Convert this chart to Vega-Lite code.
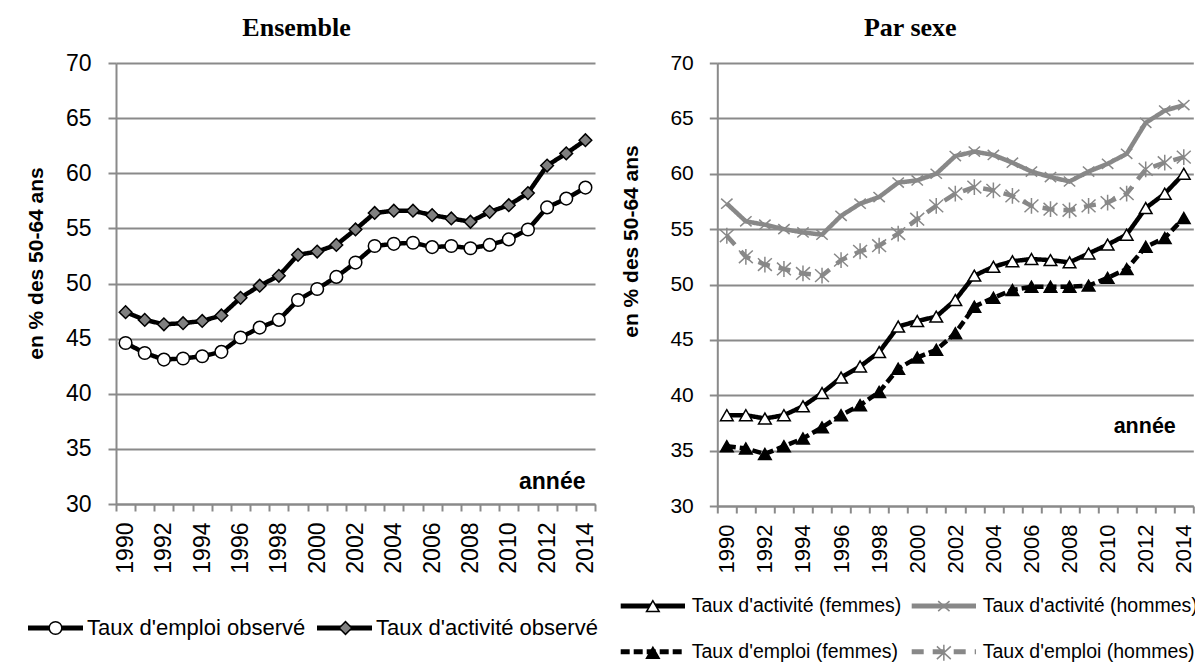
{
  "$schema": "https://vega.github.io/schema/vega-lite/v6.json",
  "background": "white",
  "padding": {"left": 17, "top": 15, "right": 0, "bottom": 0},
  "bounds": "flush",
  "spacing": 122.3,
  "resolve": {
    "scale": {"color": "independent", "strokeDash": "independent", "shape": "independent", "fill": "independent", "stroke": "independent", "x": "independent", "y": "independent"},
    "legend": {"color": "independent", "strokeDash": "independent", "shape": "independent", "fill": "independent", "stroke": "independent"}
  },
  "config": {
    "view": {"stroke": null},
    "axis": {"gridColor": "#8a8a8a", "gridWidth": 2, "domainColor": "#8a8a8a", "domainWidth": 2, "tickColor": "#8a8a8a", "tickWidth": 2, "labelColor": "black", "labelFont": "Liberation Sans", "titleFont": "Liberation Sans", "titleColor": "black"},
    "title": {"font": "Liberation Serif", "fontWeight": "bold", "fontSize": 26, "color": "black"},
    "legend": {"labelFont": "Liberation Sans", "labelColor": "black", "labelLimit": 500, "padding": 0}
  },
  "datasets": {
    "ens": [
      {"annee": 1990, "serie": "Taux d'emploi observé", "valeur": 44.6},
      {"annee": 1991, "serie": "Taux d'emploi observé", "valeur": 43.7},
      {"annee": 1992, "serie": "Taux d'emploi observé", "valeur": 43.1},
      {"annee": 1993, "serie": "Taux d'emploi observé", "valeur": 43.2},
      {"annee": 1994, "serie": "Taux d'emploi observé", "valeur": 43.4},
      {"annee": 1995, "serie": "Taux d'emploi observé", "valeur": 43.8},
      {"annee": 1996, "serie": "Taux d'emploi observé", "valeur": 45.1},
      {"annee": 1997, "serie": "Taux d'emploi observé", "valeur": 46.0},
      {"annee": 1998, "serie": "Taux d'emploi observé", "valeur": 46.7},
      {"annee": 1999, "serie": "Taux d'emploi observé", "valeur": 48.5},
      {"annee": 2000, "serie": "Taux d'emploi observé", "valeur": 49.5},
      {"annee": 2001, "serie": "Taux d'emploi observé", "valeur": 50.6},
      {"annee": 2002, "serie": "Taux d'emploi observé", "valeur": 51.9},
      {"annee": 2003, "serie": "Taux d'emploi observé", "valeur": 53.4},
      {"annee": 2004, "serie": "Taux d'emploi observé", "valeur": 53.6},
      {"annee": 2005, "serie": "Taux d'emploi observé", "valeur": 53.7},
      {"annee": 2006, "serie": "Taux d'emploi observé", "valeur": 53.3},
      {"annee": 2007, "serie": "Taux d'emploi observé", "valeur": 53.4},
      {"annee": 2008, "serie": "Taux d'emploi observé", "valeur": 53.2},
      {"annee": 2009, "serie": "Taux d'emploi observé", "valeur": 53.5},
      {"annee": 2010, "serie": "Taux d'emploi observé", "valeur": 54.0},
      {"annee": 2011, "serie": "Taux d'emploi observé", "valeur": 54.9},
      {"annee": 2012, "serie": "Taux d'emploi observé", "valeur": 56.9},
      {"annee": 2013, "serie": "Taux d'emploi observé", "valeur": 57.7},
      {"annee": 2014, "serie": "Taux d'emploi observé", "valeur": 58.7},
      {"annee": 1990, "serie": "Taux d'activité observé", "valeur": 47.4},
      {"annee": 1991, "serie": "Taux d'activité observé", "valeur": 46.7},
      {"annee": 1992, "serie": "Taux d'activité observé", "valeur": 46.3},
      {"annee": 1993, "serie": "Taux d'activité observé", "valeur": 46.4},
      {"annee": 1994, "serie": "Taux d'activité observé", "valeur": 46.6},
      {"annee": 1995, "serie": "Taux d'activité observé", "valeur": 47.1},
      {"annee": 1996, "serie": "Taux d'activité observé", "valeur": 48.7},
      {"annee": 1997, "serie": "Taux d'activité observé", "valeur": 49.8},
      {"annee": 1998, "serie": "Taux d'activité observé", "valeur": 50.7},
      {"annee": 1999, "serie": "Taux d'activité observé", "valeur": 52.6},
      {"annee": 2000, "serie": "Taux d'activité observé", "valeur": 52.9},
      {"annee": 2001, "serie": "Taux d'activité observé", "valeur": 53.5},
      {"annee": 2002, "serie": "Taux d'activité observé", "valeur": 54.9},
      {"annee": 2003, "serie": "Taux d'activité observé", "valeur": 56.4},
      {"annee": 2004, "serie": "Taux d'activité observé", "valeur": 56.6},
      {"annee": 2005, "serie": "Taux d'activité observé", "valeur": 56.6},
      {"annee": 2006, "serie": "Taux d'activité observé", "valeur": 56.2},
      {"annee": 2007, "serie": "Taux d'activité observé", "valeur": 55.9},
      {"annee": 2008, "serie": "Taux d'activité observé", "valeur": 55.6},
      {"annee": 2009, "serie": "Taux d'activité observé", "valeur": 56.5},
      {"annee": 2010, "serie": "Taux d'activité observé", "valeur": 57.1},
      {"annee": 2011, "serie": "Taux d'activité observé", "valeur": 58.2},
      {"annee": 2012, "serie": "Taux d'activité observé", "valeur": 60.7},
      {"annee": 2013, "serie": "Taux d'activité observé", "valeur": 61.8},
      {"annee": 2014, "serie": "Taux d'activité observé", "valeur": 63.0}
    ],
    "sexe": [
      {"annee": 1990, "serie": "Taux d'activité (femmes)", "valeur": 38.2},
      {"annee": 1991, "serie": "Taux d'activité (femmes)", "valeur": 38.2},
      {"annee": 1992, "serie": "Taux d'activité (femmes)", "valeur": 37.9},
      {"annee": 1993, "serie": "Taux d'activité (femmes)", "valeur": 38.2},
      {"annee": 1994, "serie": "Taux d'activité (femmes)", "valeur": 39.0},
      {"annee": 1995, "serie": "Taux d'activité (femmes)", "valeur": 40.2},
      {"annee": 1996, "serie": "Taux d'activité (femmes)", "valeur": 41.6},
      {"annee": 1997, "serie": "Taux d'activité (femmes)", "valeur": 42.6},
      {"annee": 1998, "serie": "Taux d'activité (femmes)", "valeur": 43.9},
      {"annee": 1999, "serie": "Taux d'activité (femmes)", "valeur": 46.2},
      {"annee": 2000, "serie": "Taux d'activité (femmes)", "valeur": 46.7},
      {"annee": 2001, "serie": "Taux d'activité (femmes)", "valeur": 47.1},
      {"annee": 2002, "serie": "Taux d'activité (femmes)", "valeur": 48.6},
      {"annee": 2003, "serie": "Taux d'activité (femmes)", "valeur": 50.8},
      {"annee": 2004, "serie": "Taux d'activité (femmes)", "valeur": 51.6},
      {"annee": 2005, "serie": "Taux d'activité (femmes)", "valeur": 52.1},
      {"annee": 2006, "serie": "Taux d'activité (femmes)", "valeur": 52.3},
      {"annee": 2007, "serie": "Taux d'activité (femmes)", "valeur": 52.2},
      {"annee": 2008, "serie": "Taux d'activité (femmes)", "valeur": 52.0},
      {"annee": 2009, "serie": "Taux d'activité (femmes)", "valeur": 52.8},
      {"annee": 2010, "serie": "Taux d'activité (femmes)", "valeur": 53.6},
      {"annee": 2011, "serie": "Taux d'activité (femmes)", "valeur": 54.5},
      {"annee": 2012, "serie": "Taux d'activité (femmes)", "valeur": 56.9},
      {"annee": 2013, "serie": "Taux d'activité (femmes)", "valeur": 58.2},
      {"annee": 2014, "serie": "Taux d'activité (femmes)", "valeur": 60.0},
      {"annee": 1990, "serie": "Taux d'activité (hommes)", "valeur": 57.3},
      {"annee": 1991, "serie": "Taux d'activité (hommes)", "valeur": 55.7},
      {"annee": 1992, "serie": "Taux d'activité (hommes)", "valeur": 55.4},
      {"annee": 1993, "serie": "Taux d'activité (hommes)", "valeur": 55.0},
      {"annee": 1994, "serie": "Taux d'activité (hommes)", "valeur": 54.7},
      {"annee": 1995, "serie": "Taux d'activité (hommes)", "valeur": 54.5},
      {"annee": 1996, "serie": "Taux d'activité (hommes)", "valeur": 56.2},
      {"annee": 1997, "serie": "Taux d'activité (hommes)", "valeur": 57.3},
      {"annee": 1998, "serie": "Taux d'activité (hommes)", "valeur": 57.9},
      {"annee": 1999, "serie": "Taux d'activité (hommes)", "valeur": 59.2},
      {"annee": 2000, "serie": "Taux d'activité (hommes)", "valeur": 59.4},
      {"annee": 2001, "serie": "Taux d'activité (hommes)", "valeur": 60.0},
      {"annee": 2002, "serie": "Taux d'activité (hommes)", "valeur": 61.6},
      {"annee": 2003, "serie": "Taux d'activité (hommes)", "valeur": 62.0},
      {"annee": 2004, "serie": "Taux d'activité (hommes)", "valeur": 61.7},
      {"annee": 2005, "serie": "Taux d'activité (hommes)", "valeur": 61.0},
      {"annee": 2006, "serie": "Taux d'activité (hommes)", "valeur": 60.2},
      {"annee": 2007, "serie": "Taux d'activité (hommes)", "valeur": 59.7},
      {"annee": 2008, "serie": "Taux d'activité (hommes)", "valeur": 59.3},
      {"annee": 2009, "serie": "Taux d'activité (hommes)", "valeur": 60.2},
      {"annee": 2010, "serie": "Taux d'activité (hommes)", "valeur": 60.9},
      {"annee": 2011, "serie": "Taux d'activité (hommes)", "valeur": 61.8},
      {"annee": 2012, "serie": "Taux d'activité (hommes)", "valeur": 64.6},
      {"annee": 2013, "serie": "Taux d'activité (hommes)", "valeur": 65.7},
      {"annee": 2014, "serie": "Taux d'activité (hommes)", "valeur": 66.2},
      {"annee": 1990, "serie": "Taux d'emploi (femmes)", "valeur": 35.4},
      {"annee": 1991, "serie": "Taux d'emploi (femmes)", "valeur": 35.2},
      {"annee": 1992, "serie": "Taux d'emploi (femmes)", "valeur": 34.7},
      {"annee": 1993, "serie": "Taux d'emploi (femmes)", "valeur": 35.4},
      {"annee": 1994, "serie": "Taux d'emploi (femmes)", "valeur": 36.1},
      {"annee": 1995, "serie": "Taux d'emploi (femmes)", "valeur": 37.1},
      {"annee": 1996, "serie": "Taux d'emploi (femmes)", "valeur": 38.2},
      {"annee": 1997, "serie": "Taux d'emploi (femmes)", "valeur": 39.1},
      {"annee": 1998, "serie": "Taux d'emploi (femmes)", "valeur": 40.3},
      {"annee": 1999, "serie": "Taux d'emploi (femmes)", "valeur": 42.4},
      {"annee": 2000, "serie": "Taux d'emploi (femmes)", "valeur": 43.4},
      {"annee": 2001, "serie": "Taux d'emploi (femmes)", "valeur": 44.1},
      {"annee": 2002, "serie": "Taux d'emploi (femmes)", "valeur": 45.6},
      {"annee": 2003, "serie": "Taux d'emploi (femmes)", "valeur": 48.0},
      {"annee": 2004, "serie": "Taux d'emploi (femmes)", "valeur": 48.8},
      {"annee": 2005, "serie": "Taux d'emploi (femmes)", "valeur": 49.5},
      {"annee": 2006, "serie": "Taux d'emploi (femmes)", "valeur": 49.8},
      {"annee": 2007, "serie": "Taux d'emploi (femmes)", "valeur": 49.8},
      {"annee": 2008, "serie": "Taux d'emploi (femmes)", "valeur": 49.8},
      {"annee": 2009, "serie": "Taux d'emploi (femmes)", "valeur": 49.9},
      {"annee": 2010, "serie": "Taux d'emploi (femmes)", "valeur": 50.6},
      {"annee": 2011, "serie": "Taux d'emploi (femmes)", "valeur": 51.4},
      {"annee": 2012, "serie": "Taux d'emploi (femmes)", "valeur": 53.4},
      {"annee": 2013, "serie": "Taux d'emploi (femmes)", "valeur": 54.2},
      {"annee": 2014, "serie": "Taux d'emploi (femmes)", "valeur": 56.0},
      {"annee": 1990, "serie": "Taux d'emploi (hommes)", "valeur": 54.4},
      {"annee": 1991, "serie": "Taux d'emploi (hommes)", "valeur": 52.5},
      {"annee": 1992, "serie": "Taux d'emploi (hommes)", "valeur": 51.8},
      {"annee": 1993, "serie": "Taux d'emploi (hommes)", "valeur": 51.4},
      {"annee": 1994, "serie": "Taux d'emploi (hommes)", "valeur": 51.0},
      {"annee": 1995, "serie": "Taux d'emploi (hommes)", "valeur": 50.8},
      {"annee": 1996, "serie": "Taux d'emploi (hommes)", "valeur": 52.2},
      {"annee": 1997, "serie": "Taux d'emploi (hommes)", "valeur": 53.0},
      {"annee": 1998, "serie": "Taux d'emploi (hommes)", "valeur": 53.5},
      {"annee": 1999, "serie": "Taux d'emploi (hommes)", "valeur": 54.6},
      {"annee": 2000, "serie": "Taux d'emploi (hommes)", "valeur": 55.9},
      {"annee": 2001, "serie": "Taux d'emploi (hommes)", "valeur": 57.1},
      {"annee": 2002, "serie": "Taux d'emploi (hommes)", "valeur": 58.2},
      {"annee": 2003, "serie": "Taux d'emploi (hommes)", "valeur": 58.8},
      {"annee": 2004, "serie": "Taux d'emploi (hommes)", "valeur": 58.5},
      {"annee": 2005, "serie": "Taux d'emploi (hommes)", "valeur": 58.0},
      {"annee": 2006, "serie": "Taux d'emploi (hommes)", "valeur": 57.1},
      {"annee": 2007, "serie": "Taux d'emploi (hommes)", "valeur": 56.8},
      {"annee": 2008, "serie": "Taux d'emploi (hommes)", "valeur": 56.7},
      {"annee": 2009, "serie": "Taux d'emploi (hommes)", "valeur": 57.1},
      {"annee": 2010, "serie": "Taux d'emploi (hommes)", "valeur": 57.4},
      {"annee": 2011, "serie": "Taux d'emploi (hommes)", "valeur": 58.2},
      {"annee": 2012, "serie": "Taux d'emploi (hommes)", "valeur": 60.4},
      {"annee": 2013, "serie": "Taux d'emploi (hommes)", "valeur": 61.0},
      {"annee": 2014, "serie": "Taux d'emploi (hommes)", "valeur": 61.5}
    ]
  },
  "hconcat": [
    {
      "width": 479,
      "height": 441,
      "title": {"text": "Ensemble", "anchor": "middle", "dx": -59, "offset": 11},
      "data": {"name": "ens"},
      "encoding": {
        "x": {"field": "annee", "type": "ordinal", "scale": {"type": "band", "paddingInner": 0, "paddingOuter": 0},
          "axis": {"title": "année", "titleX": 469, "titleY": -23, "titleAlign": "right", "titleBaseline": "middle", "titleAngle": 0, "titleFontSize": 23, "titleFontWeight": "bold", "labelAngle": -90, "labelFontSize": 23, "labelPadding": 11, "tickSize": 7, "tickBand": "extent", "labelOverlap": false, "labelExpr": "datum.value % 2 == 0 ? datum.label : ''", "grid": false}},
        "y": {"field": "valeur", "type": "quantitative", "scale": {"domain": [30, 70], "nice": false, "zero": false},
          "axis": {"title": "en % des 50-64 ans", "values": [30, 35, 40, 45, 50, 55, 60, 65, 70], "grid": true, "tickSize": 8, "labelFontSize": 23, "labelPadding": 17, "titleFontSize": 21, "titleFontWeight": "bold", "titleX": -80, "titleY": 200, "titleBaseline": "middle", "titleAlign": "center", "titleAngle": -90}}
      },
      "layer": [
        {
          "mark": {"type": "line", "strokeWidth": 4.5},
          "encoding": {
            "color": {"field": "serie", "type": "nominal", "scale": {"domain": ["Taux d'emploi observé", "Taux d'activité observé"], "range": ["black", "black"]},
              "legend": {"orient": "none", "legendX": -99, "legendY": 554, "direction": "horizontal", "columns": 2, "title": null, "symbolType": "M0,0L8.696,0", "symbolSize": 160, "symbolStrokeWidth": 5, "symbolOffset": 0, "labelFontSize": 22, "labelOffset": 48, "columnPadding": -5}},
            "strokeDash": {"field": "serie", "type": "nominal", "scale": {"domain": ["Taux d'emploi observé", "Taux d'activité observé"], "range": [[1, 0], [1, 0]]},
              "legend": {"orient": "none", "legendX": -99, "legendY": 554, "direction": "horizontal", "columns": 2, "title": null, "symbolType": "M0,0L8.696,0", "symbolSize": 160, "symbolStrokeWidth": 5, "symbolOffset": 0, "labelFontSize": 22, "labelOffset": 48, "columnPadding": -5}}
          }
        },
        {
          "mark": {"type": "point", "filled": true, "size": 160, "strokeWidth": 1.5, "opacity": 1},
          "encoding": {
            "shape": {"field": "serie", "type": "nominal", "sort": "descending", "scale": {"range": ["circle", "diamond"]},
              "legend": {"orient": "none", "legendX": -99, "legendY": 554, "direction": "horizontal", "columns": 2, "title": null, "symbolSize": 160, "symbolStrokeWidth": 1.5, "symbolOffset": 27.5, "labelFontSize": 22, "labelOffset": 21.5, "columnPadding": -32.5, "labelOpacity": 0}},
            "fill": {"field": "serie", "type": "nominal", "sort": "descending", "scale": {"range": ["white", "#808080"]},
              "legend": {"orient": "none", "legendX": -99, "legendY": 554, "direction": "horizontal", "columns": 2, "title": null, "symbolSize": 160, "symbolStrokeWidth": 1.5, "symbolOffset": 27.5, "labelFontSize": 22, "labelOffset": 21.5, "columnPadding": -32.5, "labelOpacity": 0}},
            "stroke": {"field": "serie", "type": "nominal", "sort": "descending", "scale": {"range": ["black", "black"]},
              "legend": {"orient": "none", "legendX": -99, "legendY": 554, "direction": "horizontal", "columns": 2, "title": null, "symbolSize": 160, "symbolStrokeWidth": 1.5, "symbolOffset": 27.5, "labelFontSize": 22, "labelOffset": 21.5, "columnPadding": -32.5, "labelOpacity": 0}}
          }
        }
      ]
    },
    {
      "width": 476,
      "height": 443,
      "title": {"text": "Par sexe", "anchor": "middle", "dx": -45, "offset": 11},
      "data": {"name": "sexe"},
      "encoding": {
        "x": {"field": "annee", "type": "ordinal", "scale": {"type": "band", "paddingInner": 0, "paddingOuter": 0},
          "axis": {"title": "année", "titleX": 458, "titleY": -80, "titleAlign": "right", "titleBaseline": "middle", "titleAngle": 0, "titleFontSize": 21.5, "titleFontWeight": "bold", "labelAngle": -90, "labelFontSize": 22, "labelPadding": 11, "tickSize": 7, "tickBand": "extent", "labelOverlap": false, "labelExpr": "datum.value % 2 == 0 ? datum.label : ''", "grid": false}},
        "y": {"field": "valeur", "type": "quantitative", "scale": {"domain": [30, 70], "nice": false, "zero": false},
          "axis": {"title": "en % des 50-64 ans", "values": [30, 35, 40, 45, 50, 55, 60, 65, 70], "grid": true, "tickSize": 8, "labelFontSize": 21, "labelPadding": 16, "titleFontSize": 21, "titleFontWeight": "bold", "titleX": -86, "titleY": 178, "titleBaseline": "middle", "titleAlign": "center", "titleAngle": -90}}
      },
      "layer": [
        {
          "mark": {"type": "line", "strokeWidth": 4.5},
          "encoding": {
            "color": {"field": "serie", "type": "nominal", "scale": {"domain": ["Taux d'activité (femmes)", "Taux d'activité (hommes)", "Taux d'emploi (femmes)", "Taux d'emploi (hommes)"], "range": ["black", "#888888", "black", "#888888"]},
              "legend": {"orient": "none", "legendX": -106.35, "legendY": 533, "direction": "horizontal", "columns": 2, "title": null, "symbolType": "M0,0L10.166,0", "symbolSize": 160, "symbolStrokeWidth": 5, "symbolOffset": 0, "labelFontSize": 19.5, "labelOffset": 61.25, "columnPadding": -1.6, "rowPadding": 25}},
            "strokeDash": {"field": "serie", "type": "nominal", "scale": {"domain": ["Taux d'activité (femmes)", "Taux d'activité (hommes)", "Taux d'emploi (femmes)", "Taux d'emploi (hommes)"], "range": [[1, 0], [1, 0], [9, 4], [12, 9]]},
              "legend": {"orient": "none", "legendX": -106.35, "legendY": 533, "direction": "horizontal", "columns": 2, "title": null, "symbolType": "M0,0L10.166,0", "symbolSize": 160, "symbolStrokeWidth": 5, "symbolOffset": 0, "labelFontSize": 19.5, "labelOffset": 61.25, "columnPadding": -1.6, "rowPadding": 25}}
          }
        },
        {
          "mark": {"type": "point", "filled": true, "size": 160, "strokeWidth": 1.5, "opacity": 1},
          "encoding": {
            "shape": {"field": "serie", "type": "nominal", "scale": {"range": ["triangle-up", "M-0.9,-0.8L0.9,0.8M-0.9,0.8L0.9,-0.8", "triangle-up", "M-1.1,-1L1.1,1M-1.1,1L1.1,-1M0,-1.25L0,1.25"]},
              "legend": {"orient": "none", "legendX": -106.35, "legendY": 533, "direction": "horizontal", "columns": 2, "title": null, "symbolSize": 160, "symbolStrokeWidth": 1.5, "symbolOffset": 32.15, "labelFontSize": 19.5, "labelOffset": 29.25, "columnPadding": -33.75, "rowPadding": 25, "labelOpacity": 0}},
            "fill": {"field": "serie", "type": "nominal", "scale": {"range": ["white", "transparent", "black", "transparent"]},
              "legend": {"orient": "none", "legendX": -106.35, "legendY": 533, "direction": "horizontal", "columns": 2, "title": null, "symbolSize": 160, "symbolStrokeWidth": 1.5, "symbolOffset": 32.15, "labelFontSize": 19.5, "labelOffset": 29.25, "columnPadding": -33.75, "rowPadding": 25, "labelOpacity": 0}},
            "stroke": {"field": "serie", "type": "nominal", "scale": {"range": ["black", "#888888", "black", "#888888"]},
              "legend": {"orient": "none", "legendX": -106.35, "legendY": 533, "direction": "horizontal", "columns": 2, "title": null, "symbolSize": 160, "symbolStrokeWidth": 1.5, "symbolOffset": 32.15, "labelFontSize": 19.5, "labelOffset": 29.25, "columnPadding": -33.75, "rowPadding": 25, "labelOpacity": 0}}
          }
        }
      ]
    }
  ]
}
